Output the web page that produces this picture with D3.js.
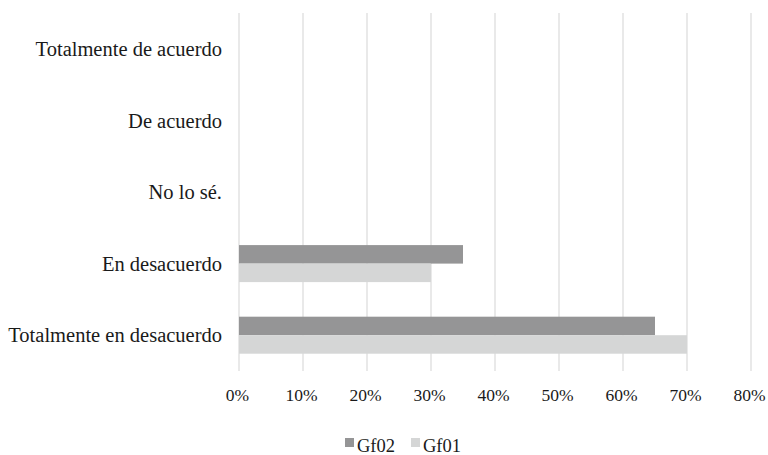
<!DOCTYPE html>
<html><head><meta charset="utf-8">
<script src="https://cdn.jsdelivr.net/npm/d3@7/dist/d3.min.js"></script>
<style>body{margin:0;background:#fff}text{font-family:"Liberation Serif","DejaVu Serif",serif;fill:#1a1a1a}</style>
</head><body><svg id="c" width="768" height="455"></svg>
<script>
const categories = ["Totalmente de acuerdo","De acuerdo","No lo sé.","En desacuerdo","Totalmente en desacuerdo"];
const seriesNames = ["Gf02","Gf01"];
const gf02 = [0,0,0,0.35,0.65];
const gf01 = [0,0,0,0.30,0.70];
const tickValues = [0,0.1,0.2,0.3,0.4,0.5,0.6,0.7,0.8];
const colors = {"Gf02":"#959596","Gf01":"#d5d6d6"};

const svg = d3.select("#c");
const x = d3.scaleLinear().domain([0,0.8]).range([239,751]);
const y0 = d3.scaleBand().domain(categories).range([13,371]).paddingInner(0.483).paddingOuter(0.2415);
const y1 = d3.scaleBand().domain(seriesNames).range([0,y0.bandwidth()]);

// gridlines
svg.append("g").selectAll("line").data(tickValues).join("line")
  .attr("x1",d=>x(d)).attr("x2",d=>x(d)).attr("y1",13).attr("y2",371)
  .attr("stroke","#e2e2e2").attr("stroke-width",1.5);

const data = categories.map((c,i)=>({c, vals:[{s:"Gf02",v:gf02[i]},{s:"Gf01",v:gf01[i]}]}));
svg.append("g").selectAll("g").data(data).join("g")
  .attr("transform",d=>`translate(0,${y0(d.c)})`)
  .selectAll("rect").data(d=>d.vals).join("rect")
  .attr("x",x(0)).attr("y",d=>y1(d.s)).attr("width",d=>x(d.v)-x(0)).attr("height",y1.bandwidth())
  .attr("fill",d=>colors[d.s]);

// category labels
svg.append("g").selectAll("text").data(categories).join("text")
  .attr("x",222).attr("y",d=>y0(d)+y0.bandwidth()/2).attr("dy","0.35em")
  .attr("text-anchor","end").attr("font-size",20.5).text(d=>d);

// x axis labels
const xAxis = d3.axisBottom(x).tickValues(tickValues).tickFormat(d3.format(".0%")).tickSize(0).tickPadding(0);
const ax = svg.append("g").attr("transform","translate(-2,395)").call(xAxis);
ax.select(".domain").remove();
ax.selectAll("text").attr("dy","0.35em").attr("font-size",17.5).style("fill","#1a1a1a");

// legend
const leg = svg.append("g").attr("transform","translate(0,446)");
const lx = [345,411];
seriesNames.forEach((s,i)=>{
  leg.append("rect").attr("x",lx[i]).attr("y",-8).attr("width",9).attr("height",9).attr("fill",colors[s]);
  leg.append("text").attr("x",lx[i]+12).attr("y",0).attr("dy","0.33em").attr("font-size",18.5).text(s);
});
</script></body></html>
